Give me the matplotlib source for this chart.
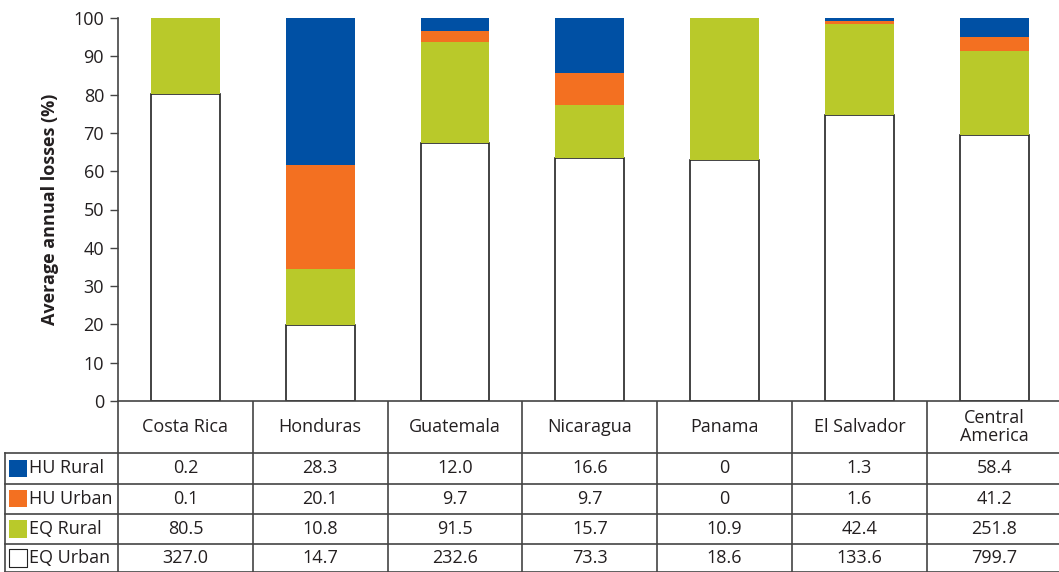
import numpy as np
import matplotlib.pyplot as plt

plt.rcParams["font.family"] = ["Open Sans", "DejaVu Sans"]

countries = ["Costa Rica", "Honduras", "Guatemala", "Nicaragua", "Panama",
             "El Salvador", "Central\nAmerica"]
series = ["HU Rural", "HU Urban", "EQ Rural", "EQ Urban"]
hu_rural = [0.2, 28.3, 12.0, 16.6, 0, 1.3, 58.4]
hu_urban = [0.1, 20.1, 9.7, 9.7, 0, 1.6, 41.2]
eq_rural = [80.5, 10.8, 91.5, 15.7, 10.9, 42.4, 251.8]
eq_urban = [327.0, 14.7, 232.6, 73.3, 18.6, 133.6, 799.7]
colors = ["#0050a4", "#f37021", "#b9c92a", "#ffffff"]

text_col = "#231f20"
line_col = "#444444"

values = np.array([hu_rural, hu_urban, eq_rural, eq_urban])
share = values / values.sum(axis=0) * 100

W, H = 1059, 572
fig = plt.figure(figsize=(W / 100, H / 100), dpi=100)

col_w = 134.8
left_px = 118
ax = fig.add_axes([left_px / W, 1 - 401 / H, 7 * col_w / W, (401 - 18) / H])
x = np.arange(len(countries))

# stack from the bottom: EQ Urban, EQ Rural, HU Urban, HU Rural
bottom = np.zeros(len(countries))
for k in [3, 2, 1, 0]:
    if k == 3:
        ax.bar(x, share[k], 0.51, bottom=bottom, color=colors[k],
               edgecolor="#222222", linewidth=1.2, zorder=2)
    else:
        ax.bar(x, share[k], 0.51, bottom=bottom, color=colors[k],
               linewidth=0, zorder=2)
    bottom += share[k]

ax.set_xlim(-0.5, 6.5)
ax.set_ylim(0, 100)
ax.set_yticks(range(0, 101, 10))
ax.set_xticks([])
ax.tick_params(axis="y", length=6, width=1, color=line_col,
               labelsize=13, labelcolor=text_col, pad=4)
for s in ["top", "right"]:
    ax.spines[s].set_visible(False)
for s in ["left", "bottom"]:
    ax.spines[s].set_color(line_col)
    ax.spines[s].set_linewidth(1.2)
ax.set_ylabel("Average annual losses (%)", fontsize=13, fontweight="bold",
              color=text_col, labelpad=10)

# data table under the bars, sharing the category positions
x0 = -0.5 - left_px / col_w
tab = fig.add_axes([0, 0, 1, (H - 401) / H])
tab.set_xlim(x0, x0 + W / col_w)
tab.set_ylim(0, H - 401)
tab.axis("off")

row_tops = [H - 453, H - 483.5, H - 514, H - 544, 0.5]
lab_left = x0 + 5 / col_w
lw = 1.2

for i in range(len(countries) + 1):
    tab.plot([i - 0.5, i - 0.5], [0, H - 401], color=line_col, lw=lw)
tab.plot([lab_left, lab_left], [0, row_tops[0]], color=line_col, lw=lw)
for y in row_tops:
    tab.plot([lab_left, 6.5], [y, y], color=line_col, lw=lw)

for i, name in enumerate(countries):
    tab.text(i, (H - 401 + row_tops[0]) / 2, name, ha="center", va="center",
             fontsize=13, color=text_col, linespacing=0.95)

for r, label in enumerate(series):
    yc = (row_tops[r] + row_tops[r + 1]) / 2
    sq_x = x0 + 18 / col_w
    tab.scatter([sq_x], [yc], s=150, marker="s", color=colors[r],
                edgecolors="#222222" if r == 3 else "none",
                linewidths=0.8, clip_on=False)
    tab.text(x0 + 29 / col_w, yc, label, ha="left", va="center",
             fontsize=13, color=text_col)
    for i in range(len(countries)):
        v = values[r, i]
        txt = "0" if v == 0 else f"{v:.1f}"
        tab.text(i, yc, txt, ha="center", va="center", fontsize=13,
                 color=text_col)

fig.savefig("out.png", dpi=100)
